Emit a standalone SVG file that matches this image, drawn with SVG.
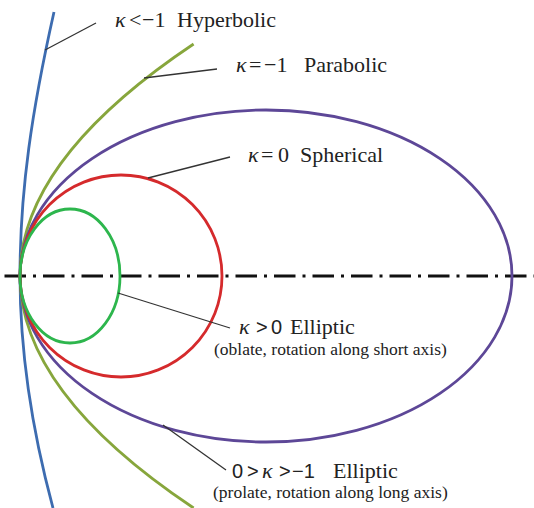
<svg xmlns="http://www.w3.org/2000/svg" width="534" height="508" viewBox="0 0 534 508">
<style>
.c{fill:none;stroke-width:2.8}
.ld{stroke:#333;stroke-width:1.3;fill:none}
.t{font-family:"Liberation Serif","Times New Roman",serif;font-size:22px;fill:#222}
.s{font-family:"Liberation Serif","Times New Roman",serif;font-size:17.5px;fill:#222}
.k{font-style:italic}
.ss{font-family:"Liberation Sans",Arial,sans-serif;font-size:20px}
</style>
<rect width="534" height="508" fill="#fff"/>
<g id="axis">
<line x1="4.5" y1="276" x2="534" y2="276" stroke="#111" stroke-width="3" stroke-dasharray="21.5 7 3 7"/>
</g>
<g id="hyperbolic">
<path class="c" stroke="#3d6cb0" d="M54,12 C32,110 20,190 20,276 C20,350 32,430 53,508"/>
</g>
<g id="parabolic">
<path class="c" stroke="#87a63c" d="M193.6,44 Q-153.6,276 193.6,508"/>
</g>
<g id="prolate">
<ellipse class="c" stroke="#5d4797" cx="266" cy="276" rx="246" ry="166"/>
</g>
<g id="spherical">
<circle class="c" stroke="#d52a2c" cx="121" cy="276" r="101"/>
</g>
<g id="oblate">
<ellipse class="c" stroke="#2db64d" cx="70" cy="276" rx="50" ry="67"/>
</g>
<g id="connectors">
<line class="ld" x1="45" y1="50" x2="96" y2="23"/>
<line class="ld" x1="144" y1="78" x2="217" y2="69"/>
<line class="ld" x1="148" y1="178" x2="230" y2="157"/>
<line class="ld" x1="118" y1="293" x2="230" y2="328"/>
<line class="ld" x1="163" y1="425" x2="226" y2="470"/>
</g>
<g id="labels">
<text class="t" y="27"><tspan class="k" x="115">κ</tspan><tspan x="129">&lt;</tspan><tspan x="142">−1</tspan><tspan x="177">Hyperbolic</tspan></text>
<text class="t" y="72"><tspan class="k" x="236">κ</tspan><tspan x="249">=</tspan><tspan x="264">−1</tspan><tspan x="304">Parabolic</tspan></text>
<text class="t" y="162"><tspan class="k" x="248">κ</tspan><tspan x="261">=</tspan><tspan x="278">0</tspan><tspan x="300">Spherical</tspan></text>
<text class="t" y="334"><tspan class="k" x="239">κ</tspan><tspan class="ss" x="256">&gt;</tspan><tspan class="ss" x="271">0</tspan><tspan x="290">Elliptic</tspan></text>
<text class="s" x="214" y="355">(oblate, rotation along short axis)</text>
<text class="t" y="478"><tspan class="ss" x="232">0</tspan><tspan class="ss" x="247">&gt;</tspan><tspan class="k" x="262">κ</tspan><tspan class="ss" x="279">&gt;</tspan><tspan class="ss" x="292">−1</tspan><tspan x="333">Elliptic</tspan></text>
<text class="s" x="213" y="498">(prolate, rotation along long axis)</text>
</g>
</svg>
